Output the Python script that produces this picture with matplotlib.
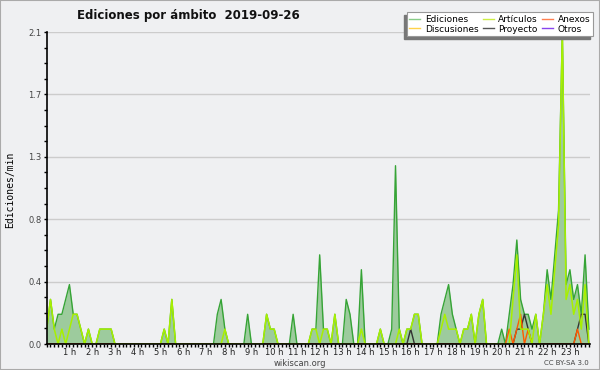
import numpy as np
import matplotlib
matplotlib.use('Agg')
import matplotlib.pyplot as plt
from matplotlib.lines import Line2D
from matplotlib.patches import Rectangle

# edits per minute, one value per 10-minute slot (00:00 .. 23:50)
ediciones = [0.1, 0.3, 0.1, 0.2, 0.2, 0.3,   0.4, 0.2, 0.2, 0.1, 0, 0.1,
             0, 0, 0.1, 0.1, 0.1, 0.1,       0, 0, 0, 0, 0, 0,
             0, 0, 0, 0, 0, 0,               0, 0.1, 0, 0.3, 0, 0,
             0, 0, 0, 0, 0, 0,               0, 0, 0, 0.2, 0.3, 0.1,
             0, 0, 0, 0, 0, 0.2,             0, 0, 0, 0, 0.2, 0.1,
             0.1, 0, 0, 0, 0, 0.2,           0, 0, 0, 0, 0.1, 0.1,
             0.6, 0.1, 0.1, 0, 0.2, 0,       0, 0.3, 0.2, 0, 0, 0.5,
             0, 0, 0, 0, 0.1, 0,             0, 0.1, 1.2, 0.1, 0, 0.1,
             0.1, 0.2, 0.2, 0, 0, 0,         0, 0, 0.2, 0.3, 0.4, 0.2,
             0.1, 0, 0.1, 0.1, 0.2, 0,       0.2, 0.3, 0, 0, 0, 0,
             0.1, 0, 0.2, 0.4, 0.7, 0.3,     0.2, 0.2, 0.1, 0.2, 0, 0.2,
             0.5, 0.3, 0.6, 0.9, 2.1, 0.4,   0.5, 0.3, 0.4, 0.2, 0.6, 0.1]

articulos = [0.1, 0.3, 0.1, 0, 0.1, 0,       0.1, 0.2, 0.2, 0.1, 0, 0.1,
             0, 0, 0.1, 0.1, 0.1, 0.1,       0, 0, 0, 0, 0, 0,
             0, 0, 0, 0, 0, 0,               0, 0.1, 0, 0.3, 0, 0,
             0, 0, 0, 0, 0, 0,               0, 0, 0, 0, 0, 0.1,
             0, 0, 0, 0, 0, 0,               0, 0, 0, 0, 0.2, 0.1,
             0.1, 0, 0, 0, 0, 0,             0, 0, 0, 0, 0.1, 0.1,
             0, 0.1, 0.1, 0, 0.2, 0,         0, 0, 0, 0, 0, 0.1,
             0, 0, 0, 0, 0.1, 0,             0, 0, 0, 0.1, 0, 0.1,
             0.1, 0.2, 0.2, 0, 0, 0,         0, 0, 0.1, 0.2, 0.1, 0.1,
             0.1, 0, 0.1, 0.1, 0.2, 0,       0.2, 0.3, 0, 0, 0, 0,
             0, 0, 0, 0.3, 0.6, 0.1,         0.1, 0.1, 0, 0.2, 0, 0.2,
             0.4, 0.2, 0.5, 0.8, 2.1, 0.3,   0.4, 0.2, 0.3, 0.1, 0.4, 0]

anexos = [0] * 122 + [0.1, 0, 0.1, 0.2, 0, 0.1] + [0] * 12 + [0.1, 0, 0, 0]
proyecto = [0] * 96 + [0.1] + [0] * 27 + [0.1, 0.1, 0.2, 0.1] + [0] * 12 + [0.1, 0.2, 0.2, 0]
discusiones = [0] * 144
otros = [0] * 144

labels = ['Ediciones', 'Discusiones', 'Artículos', 'Proyecto', 'Anexos', 'Otros']
legend_colors = ['#88cc88', '#ffd24a', '#ccee44', '#555555', '#ff7f50', '#8844ee']

x = np.arange(len(ediciones))
bg = '#eff0f2'

fig = plt.figure(figsize=(6, 3.7), dpi=100)
fig.patch.set_facecolor(bg)
ax = fig.add_axes([46.7/600, 26/370, (590-46.7)/600, 312/370])
ax.set_facecolor(bg)

ax.fill_between(x, ediciones, color='#9dcb9d', lw=0, zorder=1)
ax.plot(x, ediciones, color='#36a436', lw=1.0, zorder=3)
ax.plot(x, discusiones, color='#ffd24a', lw=1.0, zorder=2)
ax.plot(x, otros, color='#8844ee', lw=1.0, zorder=2)
ax.plot(x, proyecto, color='#333333', lw=1.0, zorder=4)
ax.plot(x, anexos, color='#ff5a00', lw=1.0, zorder=5)
ax.plot(x, articulos, color='#a8f000', lw=1.1, zorder=6)

ax.set_xlim(0, 143.3)
ax.set_ylim(0, 2.1)
ax.set_yticks([0, 0.42, 0.84, 1.26, 1.68, 2.1])
ax.set_yticklabels(['0.0', '0.4', '0.8', '1.3', '1.7', '2.1'])
ax.set_yticks(np.arange(0, 2.11, 0.105), minor=True)
ax.set_xticks(np.arange(6, 144, 6))
ax.set_xticklabels(['%d h' % h for h in range(1, 24)])
ax.set_xticks(np.arange(0, 144), minor=True)
ax.tick_params(which='both', direction='out', length=2.5, width=1, labelsize=6, pad=0.5, colors='black')
ax.tick_params(axis='x', labelcolor='#222222')
ax.tick_params(axis='y', labelcolor='#444444', pad=1)

ax.yaxis.grid(True, color='#cccccc', lw=1)
ax.set_axisbelow(True)
for s in ['top', 'right']:
    ax.spines[s].set_visible(False)
for s in ['left', 'bottom']:
    ax.spines[s].set_linewidth(1.2)
    ax.spines[s].set_zorder(10)

fig.text(188/600, 1-15/370, 'Ediciones por ámbito  2019-09-26', ha='center', va='center',
         fontsize=8.5, weight='bold', color='#111111')
fig.text(10/600, 1-190/370, 'Ediciones/min', rotation=90, ha='center', va='center',
         family='DejaVu Sans Mono', fontsize=7)
fig.text(300/600, 1-363/370, 'wikiscan.org', ha='center', va='center', fontsize=6, color='#444444')
fig.text(589/600, 1-363/370, 'CC BY-SA 3.0', ha='right', va='center', fontsize=5, color='#444444')

handles = [Line2D([], [], color=c, lw=1) for c in legend_colors]
leg = fig.legend(handles, labels, loc='upper right', bbox_to_anchor=(593/600, 1-12/370), ncol=3,
                 fontsize=6.5, frameon=True, fancybox=False, edgecolor='#999999', facecolor='white',
                 framealpha=1, borderaxespad=0, handlelength=1.2, handletextpad=0.5,
                 columnspacing=0.5, labelspacing=0.1, borderpad=0.3)
leg.get_frame().set_linewidth(0.8)

# shadow down-left of the legend box
fig.canvas.draw()
bb = leg.get_window_extent().transformed(fig.transFigure.inverted())
fig.add_artist(Rectangle((bb.x0 - 3/600, bb.y0 - 3/370), bb.width, bb.height,
                         transform=fig.transFigure, color='#777777', zorder=4))

fig.add_artist(Rectangle((0, 0), 1, 1, transform=fig.transFigure, fill=False,
                         ec='#aaaaaa', lw=1.5))

fig.savefig('out.png', dpi=100, facecolor=bg)
